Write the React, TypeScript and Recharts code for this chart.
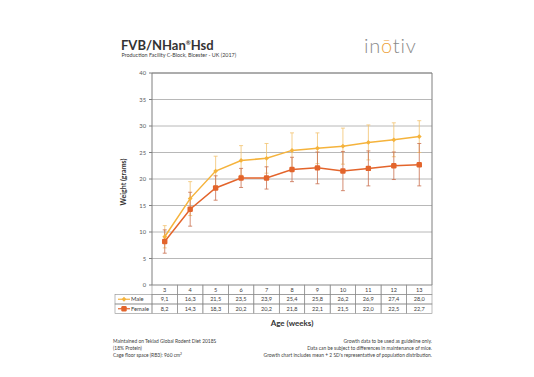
import React from "react";
import {
  LineChart,
  Line,
  XAxis,
  YAxis,
  CartesianGrid,
  ErrorBar,
  ReferenceLine,
} from "recharts";

const weeks = [3, 4, 5, 6, 7, 8, 9, 10, 11, 12, 13];
const maleMean = [9.1, 16.3, 21.5, 23.5, 23.9, 25.4, 25.8, 26.2, 26.9, 27.4, 28.0];
const femaleMean = [8.2, 14.3, 18.3, 20.2, 20.2, 21.8, 22.1, 21.5, 22.0, 22.5, 22.7];
// +/- 2 SD
const maleErr = [2.1, 3.2, 2.8, 2.8, 2.8, 3.3, 2.9, 3.4, 3.3, 3.2, 3.0];
const femaleErr = [2.2, 3.2, 2.3, 1.8, 2.1, 2.3, 3.0, 3.7, 3.3, 2.6, 4.0];
const yTicks = [0, 5, 10, 15, 20, 25, 30, 35, 40];

const MALE = "#F5B33C";
const FEMALE = "#E3642B";
const FONT = "Lato, 'Open Sans', sans-serif";

const W = 534;
const H = 377;
const MARGIN = { top: 73, right: 101, left: 115, bottom: 64 };
const Y_W = 37;
const PLOT_W = W - MARGIN.left - Y_W - MARGIN.right - 1;
const COL_W = PLOT_W / weeks.length;
const ROW_H = 9.5;
const LEG_W = 37;

const data = weeks.map((w, i) => ({
  week: w,
  male: maleMean[i],
  female: femaleMean[i],
  maleErr: maleErr[i],
  femaleErr: femaleErr[i],
}));

const fmt = (v: number) => v.toFixed(1).replace(".", ",");

const MaleDot = (props: any) => {
  const { cx, cy } = props;
  if (cx == null || cy == null) return null;
  const s = 2.4;
  return (
    <path
      d={`M${cx},${cy - s}L${cx + s},${cy}L${cx},${cy + s}L${cx - s},${cy}Z`}
      fill={MALE}
    />
  );
};

const FemaleDot = (props: any) => {
  const { cx, cy } = props;
  if (cx == null || cy == null) return null;
  return <rect x={cx - 2.7} y={cy - 2.7} width={5.4} height={5.4} rx={1.2} fill={FEMALE} />;
};

// x axis drawn as the data table under the plot
const TableTick = (props: any) => {
  const { x, y, payload } = props;
  const i = weeks.indexOf(payload.value);
  if (i < 0) return null;
  const left = x - COL_W / 2;
  const border = { fill: "none", stroke: "#8c8c8c", strokeWidth: 0.6 };
  const txt = { fontSize: 5.6, fill: "#404040", textAnchor: "middle" as const, fontFamily: FONT };
  return (
    <g>
      <rect x={left} y={y} width={COL_W} height={ROW_H} {...border} />
      <rect x={left} y={y + ROW_H} width={COL_W} height={ROW_H} {...border} />
      <rect x={left} y={y + ROW_H * 2} width={COL_W} height={ROW_H} {...border} />
      <text x={x} y={y + ROW_H - 2.6} {...txt}>{weeks[i]}</text>
      <text x={x} y={y + ROW_H * 2 - 2.6} {...txt}>{fmt(maleMean[i])}</text>
      <text x={x} y={y + ROW_H * 3 - 2.6} {...txt}>{fmt(femaleMean[i])}</text>
      {i === 0 && (
        <g>
          <rect x={left - LEG_W} y={y + ROW_H} width={LEG_W} height={ROW_H} {...border} />
          <rect x={left - LEG_W} y={y + ROW_H * 2} width={LEG_W} height={ROW_H} {...border} />
          <line x1={left - LEG_W + 3} x2={left - LEG_W + 15} y1={y + ROW_H * 1.5} y2={y + ROW_H * 1.5} stroke={MALE} strokeWidth={1.2} />
          <MaleDot cx={left - LEG_W + 9} cy={y + ROW_H * 1.5} />
          <line x1={left - LEG_W + 3} x2={left - LEG_W + 15} y1={y + ROW_H * 2.5} y2={y + ROW_H * 2.5} stroke={FEMALE} strokeWidth={1.2} />
          <FemaleDot cx={left - LEG_W + 9} cy={y + ROW_H * 2.5} />
          <text x={left - LEG_W + 16} y={y + ROW_H * 2 - 2.6} fontSize={5.8} fill="#404040" fontFamily={FONT}>Male</text>
          <text x={left - LEG_W + 16} y={y + ROW_H * 3 - 2.6} fontSize={5.8} fill="#404040" fontFamily={FONT}>Female</text>
        </g>
      )}
    </g>
  );
};

const YLabel = (props: any) => {
  const { viewBox } = props;
  const cx = viewBox.x + 11;
  const cy = viewBox.y + viewBox.height / 2 + 3;
  return (
    <text
      x={cx}
      y={cy}
      transform={`rotate(-90 ${cx} ${cy})`}
      textAnchor="middle"
      fontSize={7}
      fontWeight="bold"
      fill="#333"
      fontFamily={FONT}
    >
      Weight (grams)
    </text>
  );
};

const XLabel = (props: any) => {
  const { viewBox } = props;
  return (
    <text
      x={viewBox.x + viewBox.width / 2}
      y={viewBox.y + viewBox.height + 13}
      textAnchor="middle"
      fontSize={8}
      fontWeight="bold"
      fill="#333"
      fontFamily={FONT}
    >
      Age (weeks)
    </text>
  );
};

const note = { fontSize: 4.9, fill: "#404040", fontFamily: FONT };

export default function App() {
  return (
    <div style={{ position: "absolute", left: 0, top: 0, width: W, height: H, background: "#fff" }}>
      <LineChart width={W} height={H} data={data} margin={MARGIN}>
        <CartesianGrid vertical={false} stroke="#a6a6a6" strokeWidth={0.8} />
        <XAxis
          dataKey="week"
          interval={0}
          height={28}
          tickSize={0}
          tickMargin={0}
          axisLine={false}
          padding={{ left: COL_W / 2, right: COL_W / 2 }}
          tick={<TableTick />}
          label={<XLabel />}
        />
        <YAxis
          width={Y_W}
          domain={[0, 40]}
          ticks={yTicks}
          interval={0}
          tickSize={3}
          tickMargin={3}
          tickLine={{ stroke: "#7f7f7f" }}
          axisLine={{ stroke: "#7f7f7f" }}
          tick={{ fontSize: 5.8, fill: "#595959", fontFamily: FONT }}
          label={<YLabel />}
        />
        <YAxis
          yAxisId="frame"
          orientation="right"
          width={1}
          domain={[0, 40]}
          tick={false}
          tickLine={false}
          axisLine={{ stroke: "#7f7f7f" }}
        />
        <ReferenceLine y={40} stroke="#7f7f7f" strokeWidth={1} />
        <Line
          dataKey="male"
          stroke={MALE}
          strokeWidth={1.5}
          dot={<MaleDot />}
          activeDot={false}
          isAnimationActive={false}
        >
          <ErrorBar dataKey="maleErr" direction="y" width={2} stroke="#F3C36E" strokeWidth={0.8} />
        </Line>
        <Line
          dataKey="female"
          stroke={FEMALE}
          strokeWidth={1.5}
          dot={<FemaleDot />}
          activeDot={false}
          isAnimationActive={false}
        >
          <ErrorBar dataKey="femaleErr" direction="y" width={2} stroke="#C9704F" strokeWidth={0.8} />
        </Line>
      </LineChart>
      <svg
        width={W}
        height={H}
        style={{ position: "absolute", left: 0, top: 0, pointerEvents: "none" }}
      >
        <text x={121} y={50} fontSize={13} fontWeight="bold" fill="#333" fontFamily={FONT}>
          FVB/NHan
          <tspan fontSize={6} dy={-5}>®</tspan>
          <tspan dy={5}>Hsd</tspan>
        </text>
        <text x={121.5} y={57} fontSize={5.4} fill="#404040" fontFamily={FONT}>
          Production Facility C-Block, Bicester - UK (2017)
        </text>
        <text x={364} y={52.5} fontSize={20} fontWeight={300} letterSpacing={0.8} fill="#8a8a8a" fontFamily={FONT}>
          in<tspan fill="#EDA23B">ō</tspan>tiv
        </text>
        <text x={113} y={343} {...note}>Maintained on Teklad Global Rodent Diet 2018S</text>
        <text x={113} y={350} {...note}>(18% Protein)</text>
        <text x={113} y={357} {...note}>
          Cage floor space (RB3): 960 cm<tspan fontSize={3.4} dy={-2}>2</tspan>
        </text>
        <text x={432} y={343} textAnchor="end" {...note}>Growth data to be used as guideline only.</text>
        <text x={432} y={350} textAnchor="end" {...note}>Data can be subject to differences in maintenance of mice.</text>
        <text x={432} y={357} textAnchor="end" {...note}>
          Growth chart includes mean + 2 SD's representative of population distribution.
        </text>
      </svg>
    </div>
  );
}
